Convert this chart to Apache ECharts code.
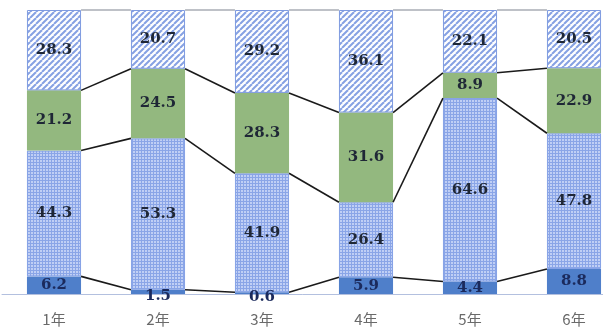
<!DOCTYPE html>
<html>
<head>
<meta charset="utf-8">
<script src="https://cdn.jsdelivr.net/npm/echarts@6/dist/echarts.min.js"></script>
<style>
  html, body { margin: 0; padding: 0; background: #fff; }
  #chart { width: 603px; height: 329px; }
</style>
</head>
<body>
<div id="chart"></div>
<script>
// Grade categories and the four stacked shares (percent), bottom to top
const categories = ['1年', '2年', '3年', '4年', '5年', '6年'];
const darkBlue  = [6.2, 1.5, 0.6, 5.9, 4.4, 8.8];
const lightBlue = [44.3, 53.3, 41.9, 26.4, 64.6, 47.8];
const green     = [21.2, 24.5, 28.3, 31.6, 8.9, 22.9];
const hatched   = [28.3, 20.7, 29.2, 36.1, 22.1, 20.5];

// Tile patterns used as bar fills
function makeHatch() {
  const c = document.createElement('canvas');
  c.width = 6; c.height = 6;
  const g = c.getContext('2d');
  g.fillStyle = '#ffffff';
  g.fillRect(0, 0, 6, 6);
  g.strokeStyle = '#86a1e3';
  g.lineWidth = 2;
  for (let o = -6; o <= 12; o += 6) {
    g.beginPath();
    g.moveTo(o, 6);
    g.lineTo(o + 6, 0);
    g.stroke();
  }
  return c;
}
function makeGrid() {
  const c = document.createElement('canvas');
  c.width = 3; c.height = 3;
  const g = c.getContext('2d');
  g.fillStyle = '#c0cff5';
  g.fillRect(0, 0, 3, 3);
  g.fillStyle = '#8aa5e7';
  g.fillRect(0, 0, 3, 1);
  g.fillRect(0, 0, 1, 3);
  return c;
}

const BAR_RATIO = 0.52;

const labelBase = {
  show: true,
  position: 'inside',
  fontFamily: 'DejaVu Serif',
  fontSize: 15,
  fontWeight: 'bold',
  color: '#1f2736'
};

function withSmallOffset(values) {
  return values.map(v => v < 2 ? { value: v, label: { offset: [0, 4] } } : v);
}

// Cumulative boundaries between segments (bottom, +1, +2, top)
const layers = [darkBlue, lightBlue, green, hatched];
const cumulative = [];
let running = categories.map(() => 0);
layers.forEach(arr => {
  running = running.map((s, i) => +(s + arr[i]).toFixed(1));
  cumulative.push(running.slice());
});

// Connector segments between neighbouring bars: [index, leftValue, rightValue, level]
const connectors = [];
for (let i = 0; i < categories.length - 1; i++) {
  cumulative.forEach((cum, k) => {
    connectors.push([i, cum[i], cum[i + 1], k]);
  });
}

const chart = echarts.init(document.getElementById('chart'), null, { renderer: 'canvas' });

chart.setOption({
  animation: false,
  grid: { left: 2, top: 10, width: 624, height: 284, outerBoundsMode: 'none' },
  xAxis: {
    type: 'category',
    data: categories,
    axisTick: { show: false },
    axisLine: { lineStyle: { color: '#b3c0df', width: 1 } },
    axisLabel: {
      margin: 18,
      fontFamily: 'Noto Sans CJK JP',
      fontSize: 15,
      color: '#6a6a6a'
    }
  },
  yAxis: {
    type: 'value',
    min: 0,
    max: 100,
    show: false
  },
  series: [
    {
      type: 'bar', stack: 'total', barWidth: (BAR_RATIO * 100) + '%',
      data: withSmallOffset(darkBlue),
      itemStyle: { color: '#4f7fca' },
      label: Object.assign({}, labelBase, { color: '#1b2a5c' })
    },
    {
      type: 'bar', stack: 'total',
      data: lightBlue,
      itemStyle: { color: { image: makeGrid(), repeat: 'repeat' }, borderColor: '#86a2e6', borderWidth: 1 },
      label: labelBase
    },
    {
      type: 'bar', stack: 'total',
      data: green,
      itemStyle: { color: '#93b87f' },
      label: labelBase
    },
    {
      type: 'bar', stack: 'total',
      data: hatched,
      itemStyle: { color: { image: makeHatch(), repeat: 'repeat' }, borderColor: '#7f9be0', borderWidth: 1 },
      label: labelBase
    },
    {
      type: 'custom',
      z: 5,
      clip: false,
      encode: { x: 0, y: 1 },
      data: connectors,
      renderItem: function (params, api) {
        const i = api.value(0);
        const level = api.value(3);
        const p1 = api.coord([i, api.value(1)]);
        const p2 = api.coord([i + 1, api.value(2)]);
        const half = api.size([1, 0])[0] * BAR_RATIO / 2;
        const top = level === 3;
        return {
          type: 'line',
          shape: { x1: p1[0] + half, y1: p1[1], x2: p2[0] - half, y2: p2[1] },
          style: { stroke: top ? '#a9adb5' : '#1a1a1a', lineWidth: top ? 1.5 : 1.6 }
        };
      }
    }
  ]
});
</script>
</body>
</html>
